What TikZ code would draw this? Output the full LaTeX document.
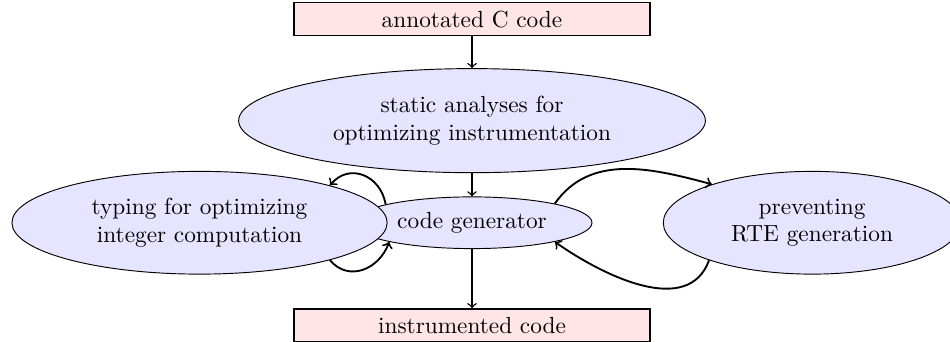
\documentclass[tikz,border=0pt]{standalone}
\usetikzlibrary{shapes.geometric}
\begin{document}
\begin{tikzpicture}[
		codebox/.style={draw, semithick, fill=red!10, rectangle, minimum width=5.37cm, minimum height=0.5cm, inner ysep=2pt},
		phase/.style={draw, fill=blue!10, ellipse, align=center, inner sep=0pt},
		flow/.style={->, semithick},
		loop/.style={->, thick}]
		\useasboundingbox (-7.12,-1.79) rectangle (7.21,3.36);
		
		\node[codebox] at (0,3.07) (src) {annotated C code};
		\node[phase, minimum width=7.04cm, minimum height=1.57cm] at (0,1.54) (sa) {static analyses for\\optimizing instrumentation};
		\node[phase, minimum width=3.62cm, minimum height=0.78cm] at (0,0) (gen) {code generator};
		\node[phase, minimum width=5.66cm, minimum height=1.55cm] at (-4.11,0) (typ) {typing for optimizing\\integer computation};
		\node[phase, minimum width=4.49cm, minimum height=1.55cm] at (5.13,0) (rte) {preventing\\RTE generation};
		\node[codebox] at (0,-1.55) (out) {instrumented code};
		
		\draw[flow] (src) -- (sa);
		\draw[flow] (sa) -- (gen);
		\draw[flow] (gen) -- (out);
		
		\draw[loop] (gen.168) to[out=100,in=50,looseness=1.3] (typ.16);
		\draw[loop] (typ.-16) to[out=-50,in=-110,looseness=1.2] (gen.193);
		\draw[loop] (gen.13) to[out=55,in=165] (rte.159);
		\draw[loop] (rte.200) to[out=-110,in=-35] (gen.-13);
\end{tikzpicture}
\end{document}
